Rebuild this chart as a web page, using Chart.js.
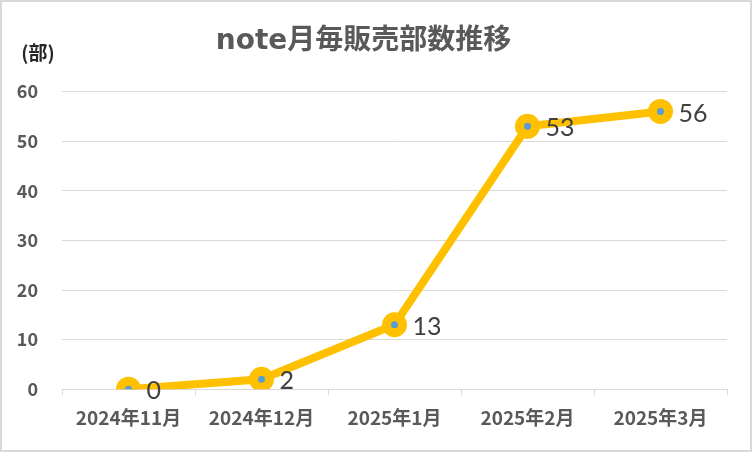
<!DOCTYPE html>
<html>
<head>
<meta charset="utf-8">
<script src="https://cdn.jsdelivr.net/npm/chart.js@4"></script>
<style>
  body { margin: 0; background: #fff; }
  #wrap { width: 752px; height: 452px; }
</style>
</head>
<body>
<div id="wrap"><canvas id="c" width="752" height="452"></canvas></div>
<script>
const months = ['2024年11月', '2024年12月', '2025年1月', '2025年2月', '2025年3月'];
const sales = [0, 2, 13, 53, 56];
const yTicks = [0, 10, 20, 30, 40, 50, 60];

const JP = '"Noto Sans CJK JP", "Noto Sans", sans-serif';

// white background + grey frame, unit label "(部)", value labels
const extras = {
    id: 'extras',
    beforeDraw(chart) {
        let ctx = chart.ctx;
        ctx.save();
        ctx.fillStyle = '#fff';
        ctx.fillRect(0, 0, chart.width, chart.height);
        ctx.strokeStyle = '#d9d9d9';
        ctx.lineWidth = 2;
        ctx.strokeRect(1, 1, chart.width - 2, chart.height - 2);
        ctx.restore();
    },
    afterDatasetsDraw(chart) {
        let ctx = chart.ctx;
        ctx.save();
        ctx.font = 'bold 19px ' + JP;
        ctx.fillStyle = '#262626';
        ctx.textAlign = 'center';
        ctx.textBaseline = 'middle';
        ctx.fillText('(部)', 38, chart.chartArea.top - 39);

        ctx.font = '25px Lato, "Open Sans", sans-serif';
        ctx.fillStyle = '#404040';
        ctx.textAlign = 'left';
        let meta = chart.getDatasetMeta(0);
        meta.data.forEach((pt, i) => {
            ctx.fillText(String(sales[i]), pt.x + 18, pt.y + 2);
        });
        ctx.restore();
    }
};

new Chart(document.getElementById('c'), {
    type: 'line',
    data: {
        labels: months,
        datasets: [{
            data: sales,
            borderColor: '#FFC000',
            borderWidth: 8,
            pointRadius: 8,
            pointHoverRadius: 8,
            pointBorderWidth: 9,
            pointBorderColor: '#FFC000',
            pointBackgroundColor: '#5B9BD5',
            tension: 0
        }]
    },
    options: {
        responsive: false,
        animation: false,
        layout: { padding: { left: 0, right: 25, top: 0, bottom: 12 } },
        plugins: {
            legend: { display: false },
            tooltip: { enabled: false },
            title: {
                display: true,
                text: 'note月毎販売部数推移',
                color: '#595959',
                font: { family: '"DejaVu Sans", ' + JP, size: 28, weight: 'bold' },
                padding: { top: 25, bottom: 33 }
            }
        },
        scales: {
            x: {
                offset: true,
                grid: {
                    offset: true,
                    drawOnChartArea: false,
                    drawTicks: true,
                    tickLength: 6,
                    color: '#d9d9d9'
                },
                border: { display: true, color: '#d9d9d9', width: 1 },
                ticks: {
                    color: '#595959',
                    padding: 11,
                    maxRotation: 0,
                    font: { family: JP, size: 19, weight: 'bold' }
                }
            },
            y: {
                min: 0,
                max: 60,
                afterFit(scale) { scale.width = 62; },
                afterBuildTicks(scale) { scale.ticks = yTicks.map(v => ({ value: v })); },
                grid: { color: '#d9d9d9', lineWidth: 1, drawTicks: false },
                border: { display: false },
                ticks: {
                    color: '#595959',
                    padding: 24,
                    font: { family: JP, size: 18, weight: 'bold' }
                }
            }
        }
    },
    plugins: [extras]
});
</script>
</body>
</html>
